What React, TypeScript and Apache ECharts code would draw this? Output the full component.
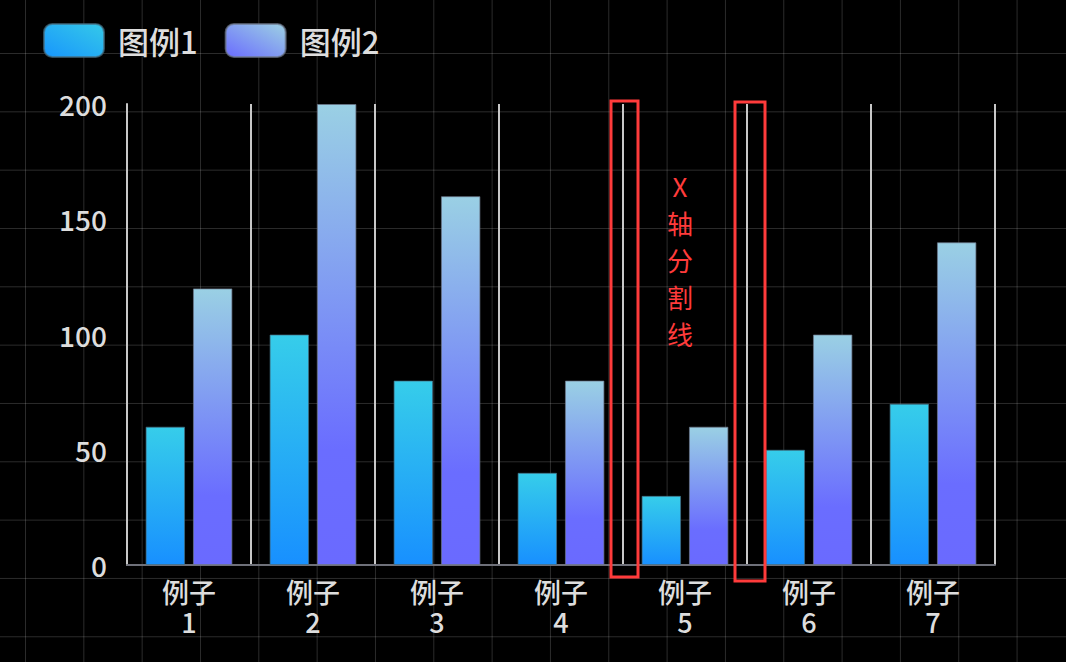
import { useEffect, useRef } from "react";
import * as echarts from "echarts";

const categories = ["例子\n1", "例子\n2", "例子\n3", "例子\n4", "例子\n5", "例子\n6", "例子\n7"];
const seriesNames = ["图例1", "图例2"];
const series1Values = [60, 100, 80, 40, 30, 50, 70];
const series2Values = [120, 200, 160, 80, 60, 100, 140];
const yTicks = { min: 0, max: 200, interval: 50 };

const font = '"Noto Sans CJK SC", "Noto Sans", sans-serif';

function vGradient(stops: [number, string][]) {
  return new echarts.graphic.LinearGradient(
    0,
    0,
    0,
    1,
    stops.map(([offset, color]) => ({ offset, color }))
  );
}

function dGradient(from: string, to: string) {
  return new echarts.graphic.LinearGradient(0, 1, 1, 0, [
    { offset: 0, color: from },
    { offset: 1, color: to },
  ]);
}

export default function App() {
  const chartRef = useRef<HTMLDivElement | null>(null);

  useEffect(() => {
    document.body.style.margin = "0";
    if (!chartRef.current) return;
    const chart = echarts.init(chartRef.current, undefined, { renderer: "svg" });

    const bar1Color = vGradient([
      [0, "#36cdea"],
      [1, "#1890ff"],
    ]);
    const bar2Color = vGradient([
      [0, "#9ad0e4"],
      [0.75, "#6a6dff"],
      [1, "#6a6aff"],
    ]);

    chart.setOption({
      animation: false,
      backgroundColor: "transparent",
      textStyle: { fontFamily: font },
      legend: {
        left: 38,
        top: 18,
        itemWidth: 60,
        itemHeight: 33,
        itemGap: 27,
        icon: "roundRect",
        textStyle: {
          color: "#dddddd",
          fontSize: 31,
          fontWeight: 500,
          fontFamily: font,
          padding: [0, 0, 0, 9],
        },
        data: [
          { name: seriesNames[0], itemStyle: { color: dGradient("#1896fd", "#35c9e8") } },
          { name: seriesNames[1], itemStyle: { color: dGradient("#6a6cff", "#9dd1e3") } },
        ],
      },
      grid: { left: 127, right: 71, top: 104, bottom: 97 },
      xAxis: {
        type: "category",
        data: categories,
        axisLine: { lineStyle: { color: "#6e7079", width: 2 } },
        axisTick: { length: 10, lineStyle: { color: "#6e7079", width: 2 } },
        axisLabel: {
          color: "#dddddd",
          fontSize: 27,
          fontWeight: 500,
          lineHeight: 30,
          margin: 11,
          fontFamily: font,
        },
        splitLine: { show: true, lineStyle: { color: "#c8c8c8", width: 2 } },
      },
      yAxis: {
        type: "value",
        min: yTicks.min,
        max: yTicks.max,
        interval: yTicks.interval,
        axisLine: { show: true, lineStyle: { color: "#c8c8c8", width: 2 } },
        axisTick: { show: false },
        splitLine: { show: false },
        axisLabel: {
          color: "#dddddd",
          fontSize: 28,
          fontWeight: 500,
          margin: 20,
          fontFamily: font,
        },
      },
      series: [
        {
          name: seriesNames[0],
          type: "bar",
          data: series1Values,
          barCategoryGap: "30%",
          barGap: "20%",
          itemStyle: { color: bar1Color, borderColor: "rgba(70,110,130,0.7)", borderWidth: 1 },
        },
        {
          name: seriesNames[1],
          type: "bar",
          data: series2Values,
          barCategoryGap: "30%",
          barGap: "20%",
          itemStyle: { color: bar2Color, borderColor: "rgba(110,120,140,0.7)", borderWidth: 1 },
        },
      ],
      graphic: [
        {
          type: "rect",
          shape: { x: 611, y: 101, width: 27, height: 476 },
          style: { fill: "none", stroke: "#ff3b3b", lineWidth: 3 },
          z: 100,
        },
        {
          type: "rect",
          shape: { x: 735, y: 102, width: 30, height: 479 },
          style: { fill: "none", stroke: "#ff3b3b", lineWidth: 3 },
          z: 100,
        },
        {
          type: "text",
          x: 680,
          y: 167,
          z: 100,
          style: {
            text: "X\n轴\n分\n割\n线",
            fill: "#ff3b3b",
            font: `26px ${font}`,
            lineHeight: 37,
            align: "center",
          },
        },
      ],
    });

    return () => {
      chart.dispose();
    };
  }, []);

  return (
    <div
      style={{
        width: 1066,
        height: 662,
        backgroundColor: "#000",
        backgroundImage:
          "linear-gradient(to right, rgba(255,255,255,0.17) 1px, transparent 1px), linear-gradient(to bottom, rgba(255,255,255,0.17) 1px, transparent 1px)",
        backgroundSize: "58.33px 58.33px",
        backgroundPosition: "25px 53px",
      }}
    >
      <div ref={chartRef} style={{ width: 1066, height: 662 }} />
    </div>
  );
}
